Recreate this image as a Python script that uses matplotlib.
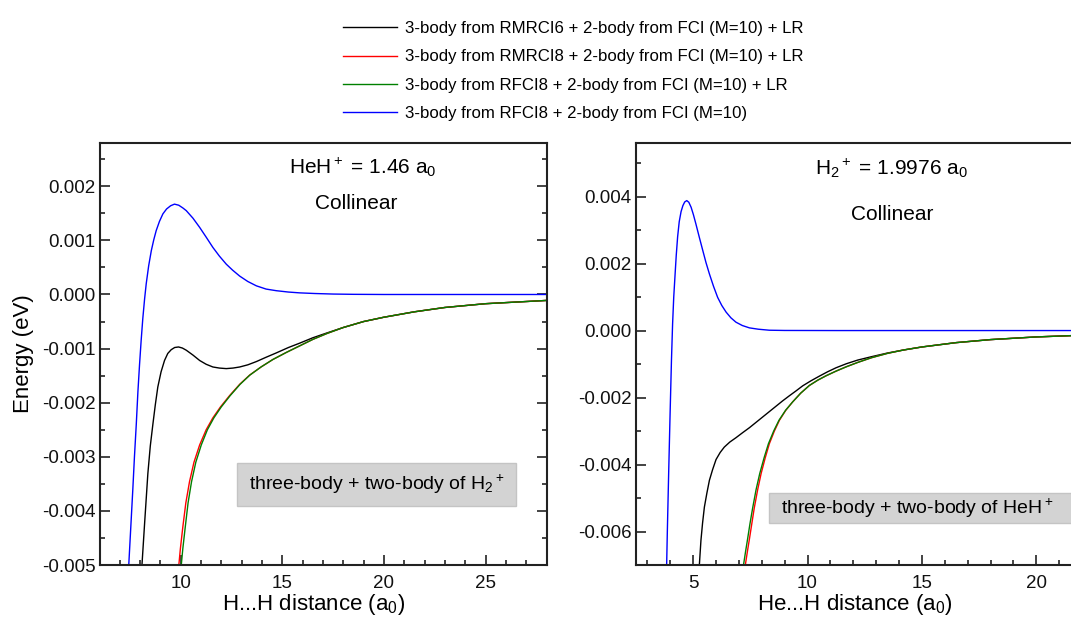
import matplotlib
matplotlib.use('Agg')
import matplotlib.pyplot as plt
from matplotlib.ticker import MultipleLocator, FuncFormatter
from matplotlib.patches import Rectangle

plt.rcParams['font.family'] = ['Liberation Sans', 'DejaVu Sans']
plt.rcParams['mathtext.fontset'] = 'custom'
plt.rcParams['mathtext.rm'] = 'Liberation Sans'
plt.rcParams['mathtext.it'] = 'Liberation Sans:italic'
plt.rcParams['mathtext.bf'] = 'Liberation Sans:bold'
plt.rcParams['mathtext.default'] = 'regular'
plt.rcParams['axes.unicode_minus'] = False

labels = ['3-body from RMRCI6 + 2-body from FCI (M=10) + LR',
          '3-body from RMRCI8 + 2-body from FCI (M=10) + LR',
          '3-body from RFCI8 + 2-body from FCI (M=10) + LR',
          '3-body from RFCI8 + 2-body from FCI (M=10)']
colors = ['black', 'red', 'green', 'blue']

# ---- left panel: HeH+ fixed at 1.46 a0, H...H distance
hh_black_x = [8.00, 8.09, 8.22, 8.38, 8.50, 8.63, 8.75, 8.87, 9.03, 9.20, 9.36, 9.53, 9.70, 9.89, 10.08,
              10.27, 10.60, 10.93, 11.25, 11.58, 11.90, 12.24, 12.57, 12.90, 13.30, 13.72, 14.20, 14.70,
              15.30, 15.85, 16.5, 17.2, 18.0, 19.0, 20.0, 21.5, 23.0, 25.0, 28.0]
hh_black_y = [-0.0058, -0.0050, -0.00423, -0.00331, -0.00280, -0.00239, -0.00203, -0.00171, -0.00143,
              -0.00122, -0.00109, -0.00102, -0.00098, -0.00097, -0.00099, -0.00103, -0.00112, -0.00122,
              -0.00129, -0.00134, -0.00136, -0.00137, -0.00136, -0.00134, -0.00130, -0.00124, -0.00116,
              -0.00108, -0.00098, -0.00090, -0.00080, -0.00071, -0.00061, -0.00050, -0.00042, -0.00032,
              -0.00024, -0.00017, -0.00011]

hh_red_x = [9.75, 9.88, 9.98, 10.10, 10.25, 10.43, 10.65, 10.93, 11.25, 11.58, 11.95, 12.40, 12.90, 13.39,
            13.95, 14.54, 15.20, 15.85, 16.5, 17.2, 18.0, 19.0, 20.0, 21.5, 23.0, 25.0, 28.0]
hh_red_y = [-0.0057, -0.0051, -0.0047, -0.00430, -0.00385, -0.00346, -0.00310, -0.00278, -0.00250,
            -0.00228, -0.00208, -0.00187, -0.00166, -0.00149, -0.00134, -0.00120, -0.00107, -0.00095,
            -0.00083, -0.00072, -0.00061, -0.00050, -0.00042, -0.00032, -0.00024, -0.00017, -0.00011]

hh_green_x = [9.87, 10.00, 10.10, 10.22, 10.36, 10.53, 10.74, 11.01, 11.31, 11.63, 11.99, 12.43, 12.92, 13.40,
              13.95, 14.54, 15.20, 15.85, 16.5, 17.2, 18.0, 19.0, 20.0, 21.5, 23.0, 25.0, 28.0]
hh_green_y = hh_red_y

hh_blue_x = [7.32, 7.44, 7.54, 7.64, 7.72, 7.81, 7.89, 7.97, 8.05, 8.13, 8.22, 8.30, 8.42, 8.55, 8.67, 8.79,
             8.95, 9.12, 9.30, 9.50, 9.69, 9.90, 10.10, 10.27, 10.60, 10.93, 11.25, 11.58, 11.90, 12.24,
             12.55, 12.90, 13.30, 13.72, 14.20, 14.70, 15.30, 15.85, 16.6, 17.5, 18.5, 20.0, 24.0, 28.0]
hh_blue_y = [-0.0059, -0.0050, -0.0043, -0.0036, -0.0030, -0.0024, -0.0018, -0.0013, -0.00085, -0.00045,
             -0.00008, 0.00020, 0.00053, 0.00081, 0.00101, 0.00118, 0.00135, 0.00149, 0.00158, 0.00164,
             0.00167, 0.00165, 0.00160, 0.00155, 0.00141, 0.00124, 0.00106, 0.00087, 0.00071, 0.00056,
             0.00045, 0.00034, 0.00024, 0.00016, 0.00010, 0.00007, 0.000045, 0.00003, 0.000018, 0.000008,
             0.000003, 0.0, 0.0, 0.0]

# ---- right panel: H2+ fixed at 1.9976 a0, He...H distance
heh_black_x = [5.22, 5.27, 5.34, 5.41, 5.49, 5.60, 5.71, 5.85, 6.00, 6.18, 6.36, 6.60, 6.87, 7.16, 7.46,
               7.75, 8.04, 8.33, 8.62, 8.91, 9.20, 9.50, 9.79, 10.15, 10.52, 10.88, 11.25, 11.70, 12.20,
               12.80, 13.5, 14.2, 15.0, 16.5, 18.0, 20.0, 22.0]
heh_black_y = [-0.0078, -0.0070, -0.00626, -0.00575, -0.00527, -0.00485, -0.00447, -0.00415, -0.00385,
               -0.00364, -0.00348, -0.00333, -0.00320, -0.00305, -0.00290, -0.00274, -0.00258, -0.00242,
               -0.00226, -0.00210, -0.00195, -0.00180, -0.00165, -0.00150, -0.00136, -0.00123, -0.00111,
               -0.00099, -0.00088, -0.00078, -0.00067, -0.00058, -0.00049, -0.00036, -0.00027, -0.00019,
               -0.00014]

heh_red_x = [7.18, 7.28, 7.37, 7.46, 7.56, 7.67, 7.82, 7.97, 8.15, 8.33, 8.55, 8.77, 9.05, 9.35, 9.70,
             10.08, 10.45, 10.81, 11.25, 11.70, 12.20, 12.80, 13.5, 14.2, 15.0, 16.5, 18.0, 20.0, 22.0]
heh_red_y = [-0.0078, -0.0070, -0.00660, -0.00622, -0.00578, -0.00530, -0.00475, -0.00427, -0.00380,
             -0.00338, -0.00300, -0.00268, -0.00238, -0.00213, -0.00187, -0.00164, -0.00148, -0.00135,
             -0.00121, -0.00108, -0.00095, -0.00081, -0.00068, -0.00058, -0.00049, -0.00036, -0.00027,
             -0.00019, -0.00014]

heh_green_x = [7.10, 7.20, 7.29, 7.38, 7.48, 7.60, 7.75, 7.91, 8.10, 8.29, 8.52, 8.75, 9.04, 9.35, 9.70,
               10.08, 10.45, 10.81, 11.25, 11.70, 12.20, 12.80, 13.5, 14.2, 15.0, 16.5, 18.0, 20.0, 22.0]
heh_green_y = heh_red_y

heh_blue_x = [3.78, 3.84, 3.87, 3.93, 3.99, 4.05, 4.10, 4.15, 4.21, 4.26, 4.32, 4.39, 4.47, 4.55, 4.63,
              4.72, 4.81, 4.91, 5.01, 5.12, 5.27, 5.42, 5.56, 5.71, 5.89, 6.07, 6.25, 6.44, 6.65, 6.87,
              7.15, 7.46, 7.85, 8.33, 9.0, 11.25, 15.0, 22.0]
heh_blue_y = [-0.0090, -0.0070, -0.0060, -0.0042, -0.0025, -0.0009, 0.0002, 0.0010, 0.00169, 0.00225,
              0.0028, 0.00325, 0.00355, 0.00373, 0.00384, 0.00388, 0.00383, 0.00368, 0.00346, 0.00318,
              0.00278, 0.00239, 0.00203, 0.00169, 0.00132, 0.00099, 0.00075, 0.00055, 0.00038, 0.00025,
              0.00015, 0.00008, 0.00004, 0.00001, 0.000003, 0.0, 0.0, 0.0]

fig = plt.figure(figsize=(10.71, 6.23), dpi=100)
ax1 = fig.add_axes([99.5 / 1071, 58 / 623, 447 / 1071, 422 / 623])
ax2 = fig.add_axes([636 / 1071, 58 / 623, 446 / 1071, 422 / 623])

lw = 1.0
l1, = ax1.plot(hh_black_x, hh_black_y, color=colors[0], lw=lw)
l2, = ax1.plot(hh_red_x, hh_red_y, color=colors[1], lw=lw)
l3, = ax1.plot(hh_green_x, hh_green_y, color=colors[2], lw=lw)
l4, = ax1.plot(hh_blue_x, hh_blue_y, color=colors[3], lw=lw)

ax2.plot(heh_black_x, heh_black_y, color=colors[0], lw=lw)
ax2.plot(heh_red_x, heh_red_y, color=colors[1], lw=lw)
ax2.plot(heh_green_x, heh_green_y, color=colors[2], lw=lw)
ax2.plot(heh_blue_x, heh_blue_y, color=colors[3], lw=lw)

ax1.set_xlim(6, 28)
ax1.set_ylim(-0.005, 0.0028)
ax2.set_xlim(2.5, 22)
ax2.set_ylim(-0.007, 0.0056)

fmt = FuncFormatter(lambda v, p: '%.3f' % (round(v, 6) + 0.0))
for ax, ymaj, ymin in [(ax1, 0.001, 0.0005), (ax2, 0.002, 0.001)]:
    ax.xaxis.set_major_locator(MultipleLocator(5))
    ax.xaxis.set_minor_locator(MultipleLocator(1))
    ax.yaxis.set_major_locator(MultipleLocator(ymaj))
    ax.yaxis.set_minor_locator(MultipleLocator(ymin))
    ax.yaxis.set_major_formatter(fmt)
    ax.tick_params(which='both', direction='in', left=True, right=True, bottom=True, top=False,
                   labelsize=13.5, width=1.1, colors='#111111')
    ax.tick_params(which='major', length=7)
    ax.tick_params(which='minor', length=3.5)
    ax.tick_params(axis='x', pad=7)
    ax.tick_params(axis='y', pad=3)
    for s in ax.spines.values():
        s.set_linewidth(1.5)
        s.set_color('#222222')

ax1.set_ylabel('Energy (eV)', fontsize=16)
ax1.yaxis.set_label_coords(-0.147, 0.5)
ax1.set_xlabel('H...H distance (a$_0$)', fontsize=16)
ax1.xaxis.set_label_coords(0.48, -0.063)
ax2.set_xlabel('He...H distance (a$_0$)', fontsize=16)
ax2.xaxis.set_label_coords(0.491, -0.063)

ax1.text(0.588, 0.943, '$HeH^+$ = 1.46 a$_0$', transform=ax1.transAxes, ha='center', va='center', fontsize=15)
ax1.text(0.575, 0.857, 'Collinear', transform=ax1.transAxes, ha='center', va='center', fontsize=15)
ax2.text(0.572, 0.941, 'H$_2$$^+$ = 1.9976 a$_0$', transform=ax2.transAxes, ha='center', va='center', fontsize=15)
ax2.text(0.574, 0.830, 'Collinear', transform=ax2.transAxes, ha='center', va='center', fontsize=15)

ax1.add_patch(Rectangle((0.308, 0.14), 0.624, 0.102, transform=ax1.transAxes,
                        facecolor='#d3d3d3', edgecolor='#c4c4c4', lw=1, zorder=3))
ax1.text(0.62, 0.19, 'three-body + two-body of H$_2$$^+$', transform=ax1.transAxes,
         ha='center', va='center', fontsize=14, zorder=4)
ax2.add_patch(Rectangle((0.298, 0.0995), 0.75, 0.0715, transform=ax2.transAxes,
                        facecolor='#d3d3d3', edgecolor='#c4c4c4', lw=1, zorder=3, clip_on=False))
ax2.text(0.325, 0.135, 'three-body + two-body of $HeH^+$', transform=ax2.transAxes,
         ha='left', va='center', fontsize=14, zorder=4)

fig.legend([l1, l2, l3, l4], labels, loc='upper left', bbox_to_anchor=(343 / 1071, 1 - 21 / 623),
           frameon=False, fontsize=12.1, handlelength=3.2, handletextpad=0.5, labelspacing=0.8,
           borderpad=0, borderaxespad=0)

plt.savefig('out.png', dpi=100)
